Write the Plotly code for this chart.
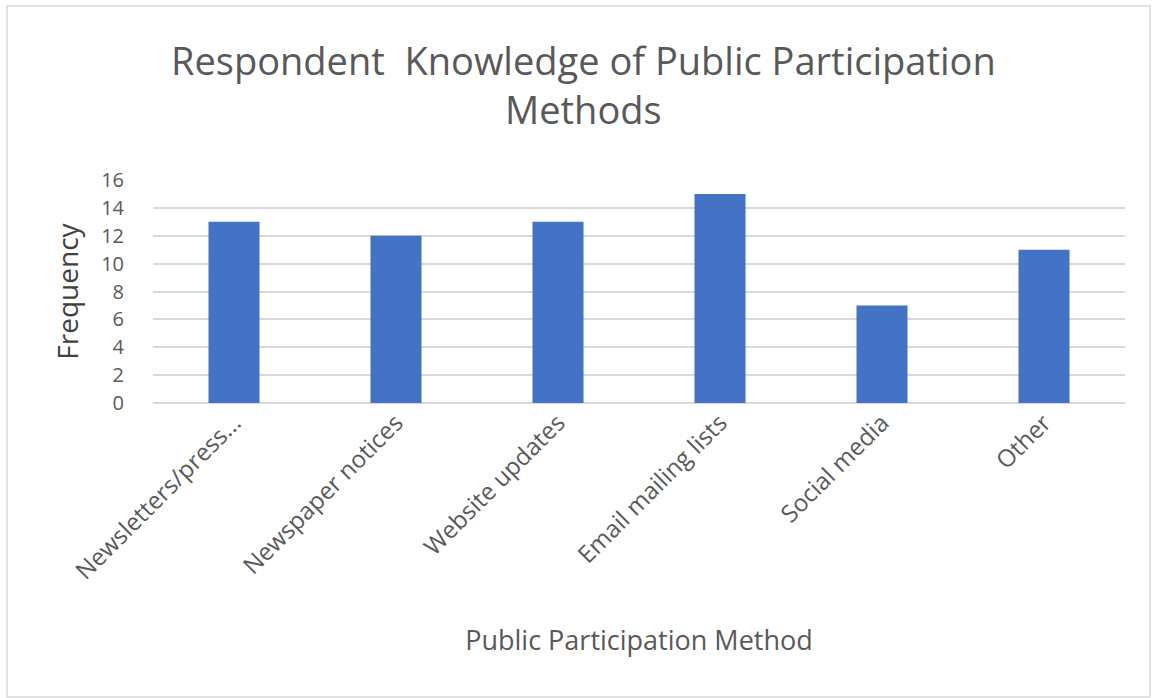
import plotly.graph_objects as go

categories = ["Newsletters/press...", "Newspaper notices", "Website updates",
              "Email mailing lists", "Social media", "Other"]
frequency = [13, 12, 13, 15, 7, 11]
y_ticks = [0, 2, 4, 6, 8, 10, 12, 14, 16]

W, H = 1157, 698
L, R, T, B = 153, 32, 180, 295
pw, ph = W - L - R, H - T - B

def px_to_paper_x(px):
    return (px - L) / pw

def px_to_paper_y(py):
    return (H - B - py) / ph

font_family = "Open Sans, Noto Sans, sans-serif"

fig = go.Figure(go.Bar(
    x=categories,
    y=frequency,
    marker=dict(color="#4472C4", line=dict(width=0)),
    width=0.315,
))

fig.update_layout(
    width=W, height=H,
    margin=dict(l=L, r=R, t=T, b=B),
    paper_bgcolor="white",
    plot_bgcolor="white",
    showlegend=False,
    font=dict(family=font_family, color="#595959"),
    xaxis=dict(
        tickangle=-45,
        tickfont=dict(size=24, color="#595959"),
        showgrid=False,
        showline=False,
        ticks="",
        title=dict(text="Public Participation Method",
                   font=dict(size=27, color="#595959"), standoff=46),
    ),
    yaxis=dict(
        range=[0, 16],
        tickvals=y_ticks,
        tickfont=dict(size=20, color="#595959"),
        ticklabelstandoff=28,
        showgrid=True,
        gridcolor="#D9D9D9",
        gridwidth=1.5,
        zeroline=True,
        zerolinecolor="#D9D9D9",
        zerolinewidth=1.5,
        showline=False,
        ticks="",
        title=dict(text="Frequency",
                   font=dict(size=28, color="#404040"), standoff=14),
    ),
    annotations=[dict(
        text="Respondent  Knowledge of Public Participation<br>Methods",
        xref="paper", yref="paper",
        x=px_to_paper_x(583), y=px_to_paper_y(32),
        xanchor="center", yanchor="top",
        showarrow=False,
        font=dict(size=38, color="#595959", family=font_family),
    )],
    shapes=[dict(
        type="rect", xref="paper", yref="paper",
        x0=px_to_paper_x(7), x1=px_to_paper_x(1150),
        y0=px_to_paper_y(697), y1=px_to_paper_y(6),
        line=dict(color="#D9D9D9", width=1.5),
        fillcolor="rgba(0,0,0,0)", layer="below",
    )],
)

fig.write_html("out.html")
